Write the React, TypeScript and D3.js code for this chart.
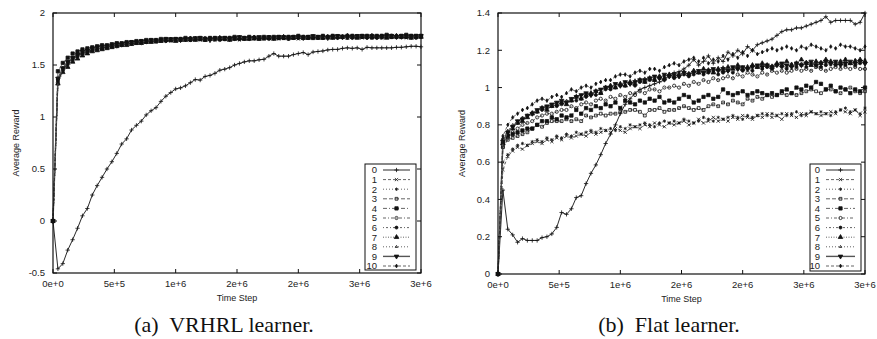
import React from "react";
import * as d3 from "d3";

const W = 877,
  H = 339;
const STEP = 40000; // one sample every 4e4 time steps

const seriesNames = ["0", "1", "2", "3", "4", "5", "6", "7", "8", "9", "10"];
const xTicks = [0, 5e5, 1e6, 1.5e6, 2e6, 2.5e6, 3e6];
const xTickLabels = ["0e+0", "5e+5", "1e+6", "2e+6", "2e+6", "3e+6", "3e+6"];

const vrYTicks = [-0.5, 0, 0.5, 1, 1.5, 2];
const vrYTickLabels = ["-0.5", "0", "0.5", "1", "1.5", "2"];
const flatYTicks = [0, 0.2, 0.4, 0.6, 0.8, 1, 1.2, 1.4];
const flatYTickLabels = ["0", "0.2", "0.4", "0.6", "0.8", "1", "1.2", "1.4"];

// (a) VRHRL learner
const vr0 = [
  0, -0.46, -0.41, -0.28, -0.18, -0.07, 0.05, 0.12, 0.25, 0.34,
  0.42, 0.5, 0.57, 0.65, 0.74, 0.79, 0.875, 0.92, 0.96, 1.02,
  1.06, 1.09, 1.15, 1.2, 1.235, 1.27, 1.28, 1.3, 1.33, 1.36,
  1.355, 1.39, 1.4, 1.42, 1.45, 1.46, 1.475, 1.5, 1.515, 1.53,
  1.54, 1.54, 1.55, 1.555, 1.585, 1.61, 1.585, 1.585, 1.585, 1.6,
  1.61, 1.62, 1.6, 1.625, 1.63, 1.635, 1.645, 1.65, 1.65, 1.66,
  1.665, 1.66, 1.665, 1.65, 1.67, 1.665, 1.665, 1.665, 1.665, 1.665,
  1.67, 1.67, 1.675, 1.68, 1.68, 1.675,
];
const vr1 = [
  0, 1.34, 1.45, 1.51, 1.55, 1.58, 1.61, 1.62, 1.64, 1.65,
  1.66, 1.67, 1.68, 1.69, 1.69, 1.7, 1.71, 1.71, 1.72, 1.72,
  1.73, 1.72, 1.73, 1.74, 1.73, 1.74, 1.75, 1.74, 1.74, 1.75,
  1.74, 1.75, 1.75, 1.74, 1.75, 1.76, 1.75, 1.75, 1.74, 1.75,
  1.76, 1.75, 1.76, 1.75, 1.76, 1.76, 1.75, 1.76, 1.77, 1.76,
  1.75, 1.76, 1.76, 1.77, 1.76, 1.77, 1.76, 1.76, 1.77, 1.78,
  1.76, 1.77, 1.77, 1.76, 1.77, 1.78, 1.77, 1.76, 1.77, 1.77,
  1.78, 1.77, 1.76, 1.77, 1.78, 1.77,
];
const vr2 = [
  0, 1.35, 1.47, 1.53, 1.57, 1.6, 1.62, 1.63, 1.65, 1.66,
  1.67, 1.67, 1.68, 1.69, 1.7, 1.71, 1.7, 1.72, 1.72, 1.73,
  1.73, 1.74, 1.73, 1.74, 1.75, 1.74, 1.74, 1.75, 1.75, 1.74,
  1.75, 1.75, 1.76, 1.75, 1.75, 1.75, 1.76, 1.75, 1.76, 1.76,
  1.75, 1.76, 1.76, 1.75, 1.76, 1.77, 1.76, 1.76, 1.76, 1.77,
  1.76, 1.76, 1.77, 1.76, 1.77, 1.77, 1.76, 1.77, 1.77, 1.76,
  1.77, 1.77, 1.78, 1.77, 1.76, 1.77, 1.78, 1.77, 1.77, 1.78,
  1.77, 1.76, 1.77, 1.78, 1.77, 1.78,
];
const vr3 = [
  0, 1.37, 1.46, 1.52, 1.56, 1.59, 1.62, 1.64, 1.65, 1.66,
  1.66, 1.68, 1.68, 1.7, 1.7, 1.71, 1.72, 1.71, 1.72, 1.73,
  1.73, 1.73, 1.74, 1.74, 1.74, 1.75, 1.74, 1.75, 1.74, 1.75,
  1.75, 1.74, 1.75, 1.76, 1.75, 1.75, 1.75, 1.76, 1.75, 1.76,
  1.76, 1.76, 1.75, 1.76, 1.76, 1.76, 1.77, 1.76, 1.75, 1.76,
  1.77, 1.76, 1.76, 1.77, 1.77, 1.76, 1.77, 1.77, 1.78, 1.77,
  1.76, 1.77, 1.78, 1.77, 1.77, 1.76, 1.77, 1.78, 1.78, 1.77,
  1.77, 1.78, 1.77, 1.78, 1.77, 1.78,
];
const vr4 = [
  0, 1.44, 1.52, 1.57, 1.61, 1.63, 1.65, 1.66, 1.67, 1.68,
  1.69, 1.69, 1.7, 1.71, 1.71, 1.72, 1.72, 1.73, 1.73, 1.74,
  1.74, 1.74, 1.75, 1.75, 1.74, 1.75, 1.75, 1.76, 1.75, 1.75,
  1.76, 1.75, 1.76, 1.76, 1.75, 1.76, 1.76, 1.77, 1.76, 1.76,
  1.77, 1.76, 1.76, 1.77, 1.76, 1.77, 1.77, 1.76, 1.77, 1.77,
  1.78, 1.77, 1.77, 1.76, 1.77, 1.78, 1.77, 1.78, 1.77, 1.77,
  1.78, 1.78, 1.77, 1.78, 1.78, 1.77, 1.78, 1.78, 1.79, 1.78,
  1.77, 1.78, 1.79, 1.78, 1.78, 1.78,
];
const vr5 = [
  0, 1.33, 1.45, 1.51, 1.55, 1.59, 1.61, 1.62, 1.64, 1.65,
  1.66, 1.67, 1.68, 1.68, 1.69, 1.7, 1.71, 1.72, 1.71, 1.72,
  1.73, 1.73, 1.74, 1.73, 1.74, 1.74, 1.75, 1.75, 1.74, 1.75,
  1.75, 1.76, 1.75, 1.75, 1.74, 1.75, 1.76, 1.75, 1.75, 1.76,
  1.75, 1.76, 1.76, 1.76, 1.75, 1.76, 1.76, 1.77, 1.76, 1.76,
  1.76, 1.77, 1.76, 1.76, 1.77, 1.76, 1.77, 1.77, 1.76, 1.77,
  1.77, 1.76, 1.77, 1.77, 1.78, 1.77, 1.76, 1.77, 1.77, 1.78,
  1.77, 1.77, 1.78, 1.77, 1.76, 1.77,
];
const vr6 = [
  0, 1.36, 1.47, 1.53, 1.57, 1.6, 1.62, 1.64, 1.65, 1.67,
  1.67, 1.68, 1.69, 1.69, 1.7, 1.71, 1.71, 1.72, 1.73, 1.72,
  1.73, 1.74, 1.74, 1.73, 1.75, 1.74, 1.75, 1.75, 1.76, 1.75,
  1.75, 1.75, 1.76, 1.75, 1.76, 1.76, 1.75, 1.76, 1.76, 1.75,
  1.76, 1.77, 1.76, 1.76, 1.77, 1.76, 1.76, 1.76, 1.77, 1.77,
  1.76, 1.77, 1.77, 1.77, 1.76, 1.77, 1.77, 1.78, 1.77, 1.77,
  1.77, 1.78, 1.77, 1.77, 1.78, 1.77, 1.77, 1.78, 1.77, 1.78,
  1.78, 1.77, 1.77, 1.78, 1.78, 1.77,
];
const vr7 = [
  0, 1.32, 1.43, 1.48, 1.53, 1.56, 1.59, 1.61, 1.63, 1.64,
  1.65, 1.66, 1.67, 1.68, 1.69, 1.69, 1.7, 1.71, 1.71, 1.72,
  1.72, 1.73, 1.73, 1.74, 1.74, 1.73, 1.74, 1.74, 1.75, 1.74,
  1.75, 1.74, 1.75, 1.75, 1.76, 1.75, 1.74, 1.75, 1.76, 1.75,
  1.75, 1.76, 1.75, 1.76, 1.76, 1.75, 1.76, 1.77, 1.76, 1.76,
  1.77, 1.76, 1.76, 1.77, 1.76, 1.76, 1.77, 1.76, 1.77, 1.77,
  1.78, 1.77, 1.76, 1.77, 1.77, 1.78, 1.77, 1.77, 1.76, 1.77,
  1.78, 1.77, 1.77, 1.76, 1.77, 1.77,
];
const vr8 = [
  0, 1.35, 1.46, 1.52, 1.56, 1.59, 1.61, 1.63, 1.64, 1.66,
  1.66, 1.67, 1.68, 1.69, 1.7, 1.7, 1.71, 1.72, 1.72, 1.73,
  1.72, 1.73, 1.74, 1.74, 1.73, 1.74, 1.75, 1.74, 1.75, 1.75,
  1.74, 1.75, 1.75, 1.76, 1.75, 1.74, 1.75, 1.76, 1.76, 1.75,
  1.76, 1.75, 1.76, 1.76, 1.76, 1.77, 1.75, 1.76, 1.76, 1.77,
  1.76, 1.77, 1.76, 1.77, 1.77, 1.76, 1.76, 1.77, 1.77, 1.76,
  1.77, 1.78, 1.76, 1.77, 1.77, 1.77, 1.78, 1.77, 1.77, 1.76,
  1.77, 1.78, 1.77, 1.77, 1.78, 1.77,
];
const vr9 = [
  0, 1.37, 1.47, 1.53, 1.57, 1.6, 1.63, 1.64, 1.66, 1.67,
  1.68, 1.68, 1.69, 1.7, 1.7, 1.71, 1.72, 1.72, 1.73, 1.73,
  1.74, 1.73, 1.74, 1.75, 1.75, 1.75, 1.74, 1.75, 1.75, 1.76,
  1.76, 1.75, 1.74, 1.75, 1.76, 1.76, 1.75, 1.76, 1.77, 1.76,
  1.76, 1.76, 1.77, 1.76, 1.77, 1.76, 1.77, 1.77, 1.76, 1.77,
  1.77, 1.76, 1.77, 1.78, 1.77, 1.77, 1.76, 1.77, 1.78, 1.77,
  1.77, 1.77, 1.78, 1.78, 1.77, 1.78, 1.77, 1.77, 1.78, 1.78,
  1.77, 1.78, 1.78, 1.77, 1.78, 1.78,
];
const vr10 = [
  0, 1.34, 1.45, 1.51, 1.56, 1.59, 1.61, 1.63, 1.64, 1.65,
  1.67, 1.67, 1.68, 1.69, 1.7, 1.7, 1.71, 1.72, 1.72, 1.72,
  1.73, 1.73, 1.74, 1.74, 1.74, 1.75, 1.75, 1.74, 1.75, 1.76,
  1.75, 1.75, 1.75, 1.76, 1.75, 1.76, 1.75, 1.76, 1.75, 1.76,
  1.77, 1.76, 1.76, 1.76, 1.77, 1.76, 1.77, 1.76, 1.77, 1.76,
  1.77, 1.77, 1.76, 1.77, 1.76, 1.78, 1.77, 1.77, 1.76, 1.77,
  1.78, 1.77, 1.77, 1.78, 1.76, 1.77, 1.78, 1.77, 1.78, 1.77,
  1.77, 1.78, 1.77, 1.78, 1.77, 1.78,
];

// (b) Flat learner
const flat0 = [
  0, 0.45, 0.24, 0.21, 0.17, 0.19, 0.18, 0.18, 0.18, 0.195,
  0.2, 0.215, 0.25, 0.33, 0.32, 0.35, 0.41, 0.42, 0.485, 0.54,
  0.585, 0.64, 0.7, 0.75, 0.8, 0.86, 0.91, 0.94, 0.97, 0.99,
  1.0, 1.01, 1.02, 1.03, 1.04, 1.07, 1.08, 1.085, 1.1, 1.12,
  1.15, 1.12, 1.14, 1.17, 1.13, 1.16, 1.14, 1.19, 1.17, 1.2,
  1.18, 1.22, 1.2, 1.23, 1.24, 1.25, 1.26, 1.28, 1.3, 1.31,
  1.31, 1.32, 1.32, 1.33, 1.34, 1.35, 1.36, 1.38, 1.35, 1.36,
  1.36, 1.36, 1.36, 1.34, 1.35, 1.4,
];
const flat1 = [
  0, 0.56, 0.63, 0.66, 0.68, 0.67, 0.69, 0.7, 0.71, 0.7,
  0.72, 0.71, 0.73, 0.72, 0.74, 0.73, 0.74, 0.75, 0.74, 0.76,
  0.75, 0.76, 0.77, 0.76, 0.78, 0.77, 0.76, 0.78, 0.79, 0.78,
  0.8, 0.79, 0.81, 0.8, 0.79, 0.81, 0.8, 0.81, 0.82, 0.8,
  0.81, 0.83, 0.81, 0.82, 0.84, 0.82, 0.83, 0.82, 0.84, 0.83,
  0.85, 0.84, 0.83, 0.85, 0.84, 0.86, 0.84, 0.85, 0.83, 0.86,
  0.85, 0.84, 0.86, 0.85, 0.87, 0.86, 0.85, 0.86, 0.87, 0.86,
  0.88, 0.87, 0.86, 0.88, 0.85, 0.87,
];
const flat2 = [
  0, 0.6, 0.64, 0.67, 0.69, 0.7, 0.69, 0.71, 0.72, 0.71,
  0.73, 0.72, 0.74, 0.73, 0.75, 0.74, 0.76, 0.75, 0.76, 0.77,
  0.76, 0.78, 0.77, 0.78, 0.77, 0.79, 0.78, 0.8, 0.79, 0.8,
  0.81, 0.8, 0.79, 0.81, 0.82, 0.81, 0.82, 0.81, 0.83, 0.82,
  0.81, 0.82, 0.84, 0.83, 0.82, 0.84, 0.83, 0.84, 0.85, 0.84,
  0.83, 0.85, 0.84, 0.85, 0.86, 0.85, 0.86, 0.85, 0.86, 0.85,
  0.86, 0.87, 0.85, 0.86, 0.87, 0.86, 0.87, 0.86, 0.85, 0.87,
  0.88, 0.89, 0.87, 0.88, 0.86, 0.89,
];
const flat3 = [
  0, 0.68, 0.72, 0.73, 0.74, 0.75, 0.76, 0.78, 0.8, 0.79,
  0.81, 0.82, 0.82, 0.82, 0.83, 0.82, 0.83, 0.82, 0.85, 0.84,
  0.85, 0.86, 0.85, 0.86, 0.86, 0.87, 0.87, 0.88, 0.88, 0.87,
  0.85, 0.88, 0.88, 0.89, 0.87, 0.88, 0.88, 0.89, 0.9, 0.89,
  0.88, 0.89, 0.88, 0.9, 0.91, 0.9, 0.92, 0.91, 0.93, 0.92,
  0.91, 0.94, 0.93, 0.95, 0.94, 0.96, 0.95, 0.96, 0.97, 0.96,
  0.97, 0.96, 0.97, 0.98, 0.99, 0.98, 0.97, 0.99, 0.99, 0.98,
  0.97, 0.99, 1.0, 0.98, 0.97, 0.98,
];
const flat4 = [
  0, 0.7, 0.74, 0.75, 0.76, 0.77, 0.78, 0.78, 0.8, 0.82,
  0.82, 0.84, 0.83, 0.85, 0.84, 0.85, 0.88, 0.86, 0.89, 0.88,
  0.9, 0.89, 0.91, 0.9, 0.92, 0.89, 0.93, 0.92, 0.91, 0.93,
  0.92, 0.94, 0.93, 0.95, 0.92, 0.93, 0.92, 0.94, 0.96, 0.95,
  0.92, 0.93, 0.95, 0.96, 0.94, 0.95, 0.99, 0.97, 0.96, 0.97,
  0.98, 0.96, 0.97, 0.98, 0.97, 0.96, 0.97, 0.96, 0.98, 0.99,
  0.97, 1.0, 0.99, 1.01, 1.0, 1.03, 1.02, 0.99, 1.01, 0.98,
  1.0, 0.99, 0.97, 0.99, 0.98, 1.0,
];
const flat5 = [
  0, 0.68, 0.73, 0.76, 0.78, 0.8, 0.81, 0.82, 0.84, 0.85,
  0.86, 0.86, 0.87, 0.88, 0.88, 0.9, 0.89, 0.91, 0.92, 0.91,
  0.93, 0.94, 0.93, 0.95, 0.94, 0.96, 0.95, 0.97, 0.96, 0.98,
  0.97, 0.99, 0.99, 0.98, 1.0, 1.0, 1.01, 1.0, 1.02, 1.01,
  1.03, 1.02, 1.04, 1.03, 1.05, 1.04, 1.05, 1.06, 1.05, 1.07,
  1.06, 1.08, 1.07, 1.06, 1.08, 1.07, 1.09, 1.08, 1.09, 1.08,
  1.09, 1.1, 1.09, 1.1, 1.09, 1.11, 1.1, 1.09, 1.1, 1.11,
  1.1, 1.11, 1.1, 1.11, 1.1, 1.1,
];
const flat6 = [
  0, 0.72, 0.76, 0.79, 0.81, 0.83, 0.85, 0.86, 0.87, 0.88,
  0.89, 0.9, 0.9, 0.91, 0.92, 0.93, 0.93, 0.94, 0.95, 0.96,
  0.96, 0.97, 0.99, 0.99, 1.0, 1.01, 1.01, 1.02, 1.01, 1.03,
  1.03, 1.04, 1.04, 1.05, 1.04, 1.06, 1.05, 1.06, 1.07, 1.06,
  1.07, 1.08, 1.07, 1.08, 1.09, 1.07, 1.08, 1.09, 1.08, 1.1,
  1.09, 1.1, 1.09, 1.11, 1.1, 1.11, 1.1, 1.12, 1.11, 1.1,
  1.12, 1.11, 1.12, 1.11, 1.13, 1.12, 1.11, 1.12, 1.13, 1.12,
  1.13, 1.12, 1.13, 1.12, 1.13, 1.13,
];
const flat7 = [
  0, 0.7, 0.75, 0.78, 0.81, 0.82, 0.84, 0.86, 0.87, 0.89,
  0.88, 0.9, 0.91, 0.92, 0.91, 0.93, 0.95, 0.94, 0.96, 0.97,
  0.98, 0.97, 1.0, 1.01, 1.0, 1.02, 1.01, 1.03, 1.02, 1.04,
  1.03, 1.05, 1.04, 1.06, 1.05, 1.07, 1.06, 1.07, 1.08, 1.07,
  1.09, 1.08, 1.1, 1.09, 1.08, 1.1, 1.09, 1.11, 1.1, 1.12,
  1.1, 1.11, 1.12, 1.11, 1.13, 1.12, 1.11, 1.13, 1.12, 1.14,
  1.12, 1.13, 1.15, 1.13, 1.12, 1.14, 1.13, 1.15, 1.14, 1.13,
  1.14, 1.15, 1.13, 1.14, 1.15, 1.14,
];
const flat8 = [
  0, 0.73, 0.77, 0.8, 0.82, 0.84, 0.85, 0.87, 0.88, 0.89,
  0.9, 0.91, 0.92, 0.92, 0.93, 0.94, 0.95, 0.96, 0.96, 0.97,
  0.98, 0.99, 1.0, 1.01, 1.0, 1.02, 1.03, 1.02, 1.04, 1.03,
  1.05, 1.04, 1.05, 1.06, 1.06, 1.07, 1.06, 1.08, 1.07, 1.08,
  1.08, 1.09, 1.08, 1.1, 1.09, 1.1, 1.11, 1.09, 1.1, 1.11,
  1.11, 1.1, 1.12, 1.11, 1.12, 1.11, 1.12, 1.13, 1.12, 1.11,
  1.13, 1.12, 1.13, 1.14, 1.12, 1.13, 1.14, 1.13, 1.12, 1.14,
  1.13, 1.14, 1.13, 1.15, 1.14, 1.15,
];
const flat9 = [
  0, 0.71, 0.76, 0.79, 0.82, 0.83, 0.85, 0.86, 0.88, 0.89,
  0.9, 0.91, 0.92, 0.93, 0.92, 0.94, 0.95, 0.96, 0.97, 0.96,
  0.98, 0.99, 1.0, 1.0, 1.02, 1.01, 1.03, 1.02, 1.03, 1.04,
  1.04, 1.05, 1.06, 1.05, 1.07, 1.06, 1.07, 1.06, 1.08, 1.07,
  1.08, 1.09, 1.08, 1.09, 1.1, 1.09, 1.1, 1.09, 1.11, 1.1,
  1.11, 1.1, 1.11, 1.12, 1.11, 1.12, 1.11, 1.12, 1.13, 1.12,
  1.11, 1.13, 1.12, 1.13, 1.14, 1.12, 1.13, 1.14, 1.13, 1.14,
  1.12, 1.13, 1.14, 1.13, 1.14, 1.13,
];
const flat10 = [
  0, 0.74, 0.8, 0.84, 0.86, 0.88, 0.89, 0.91, 0.93, 0.94,
  0.93, 0.95, 0.96, 0.95, 0.97, 0.99, 0.98, 1.0, 1.01, 1.0,
  1.02, 1.03, 1.04, 1.04, 1.06, 1.07, 1.07, 1.06, 1.08, 1.09,
  1.08, 1.1, 1.1, 1.09, 1.11, 1.12, 1.13, 1.12, 1.14, 1.15,
  1.16, 1.14, 1.16, 1.13, 1.15, 1.14, 1.17, 1.15, 1.18, 1.16,
  1.19, 1.17, 1.2, 1.18, 1.19, 1.2, 1.21, 1.2, 1.21, 1.22,
  1.21, 1.2, 1.22, 1.21, 1.23, 1.22, 1.21, 1.2, 1.22, 1.21,
  1.23, 1.22, 1.22, 1.21, 1.2, 1.22,
];

const vrSeries = [vr0, vr1, vr2, vr3, vr4, vr5, vr6, vr7, vr8, vr9, vr10];
const flatSeries = [flat0, flat1, flat2, flat3, flat4, flat5, flat6, flat7, flat8, flat9, flat10];

// gnuplot-ish line types
const dashes = ["", "3,2", "1,2", "4,2", "4,2,1,2", "3,2,1,2", "1,2,2,2", "1,1.5", "1,2", "", "3,2"];
const widths = [0.9, 0.7, 0.7, 0.7, 0.7, 0.7, 0.7, 0.7, 0.7, 1.4, 0.7];
const lineColors = ["#111", "#222", "#222", "#222", "#222", "#222", "#222", "#222", "#222", "#555", "#222"];

type MarkerStyle = { type: d3.SymbolType; size: number; filled: boolean; rotate?: number };
const markers: MarkerStyle[] = [
  { type: d3.symbolPlus, size: 7, filled: false },
  { type: d3.symbolTimes, size: 8, filled: false },
  { type: d3.symbolAsterisk, size: 8, filled: false },
  { type: d3.symbolSquare, size: 8, filled: false },
  { type: d3.symbolSquare, size: 11, filled: true },
  { type: d3.symbolCircle, size: 8, filled: false },
  { type: d3.symbolCircle, size: 7, filled: true },
  { type: d3.symbolTriangle, size: 9, filled: true },
  { type: d3.symbolTriangle2, size: 4, filled: false },
  { type: d3.symbolTriangle, size: 9, filled: true, rotate: 180 },
  { type: d3.symbolDiamond, size: 4, filled: true },
];
const markerPaths = markers.map((m) => d3.symbol().type(m.type).size(m.size)() as string);

function Marker({ k, x, y }: { k: number; x: number; y: number }) {
  const m = markers[k];
  return (
    <path
      d={markerPaths[k]}
      transform={`translate(${x},${y})${m.rotate ? ` rotate(${m.rotate})` : ""}`}
      fill={m.filled ? "#111" : "none"}
      stroke="#111"
      strokeWidth={0.8}
    />
  );
}

type Panel = {
  x0: number;
  x1: number;
  y0: number;
  y1: number;
  yDomain: [number, number];
  yTicks: number[];
  yTickLabels: string[];
  series: number[][];
  legend: { x: number; y: number; w: number; h: number; numX: number; lx0: number; lx1: number };
  yLabelX: number;
  caption: string;
  captionX: number;
};

const font = "'Liberation Sans', Arial, Helvetica, sans-serif";

function ChartPanel({ p }: { p: Panel }) {
  const x = d3.scaleLinear().domain([0, 3e6]).range([p.x0, p.x1]);
  const y = d3.scaleLinear().domain(p.yDomain).range([p.y1, p.y0]);
  const line = d3
    .line<number>()
    .x((_, i) => x(i * STEP))
    .y((d) => y(d));
  const tick = 4;
  const midY = (p.y0 + p.y1) / 2;
  const lg = p.legend;

  return (
    <g>
      {/* series */}
      {p.series.map((s, k) => (
        <g key={k}>
          <path
            d={line(s) || ""}
            fill="none"
            stroke={lineColors[k]}
            strokeWidth={widths[k]}
            strokeDasharray={dashes[k] || undefined}
          />
          {s.map((v, i) => (
            <Marker key={i} k={k} x={x(i * STEP)} y={y(v)} />
          ))}
        </g>
      ))}

      {/* frame and ticks */}
      <rect x={p.x0} y={p.y0} width={p.x1 - p.x0} height={p.y1 - p.y0} fill="none" stroke="#111" strokeWidth={1.2} />
      {xTicks.map((t, i) => (
        <g key={"xt" + i}>
          <line x1={x(t)} x2={x(t)} y1={p.y1} y2={p.y1 - tick} stroke="#111" />
          <line x1={x(t)} x2={x(t)} y1={p.y0} y2={p.y0 + tick} stroke="#111" />
          <text x={x(t)} y={p.y1 + 14} textAnchor="middle" fontSize={9.5} fontFamily={font} fill="#222">
            {xTickLabels[i]}
          </text>
        </g>
      ))}
      {p.yTicks.map((t, i) => (
        <g key={"yt" + i}>
          <line x1={p.x0} x2={p.x0 + tick} y1={y(t)} y2={y(t)} stroke="#111" />
          <line x1={p.x1} x2={p.x1 - tick} y1={y(t)} y2={y(t)} stroke="#111" />
          <text x={p.x0 - 8} y={y(t)} dy="0.35em" textAnchor="end" fontSize={9.5} fontFamily={font} fill="#222">
            {p.yTickLabels[i]}
          </text>
        </g>
      ))}

      <text x={(p.x0 + p.x1) / 2} y={p.y1 + 28} textAnchor="middle" fontSize={9} fontFamily={font} fill="#222">
        Time Step
      </text>
      <text
        transform={`translate(${p.yLabelX},${midY}) rotate(-90)`}
        textAnchor="middle"
        dy="0.35em"
        fontSize={9}
        fontFamily={font}
        fill="#222"
      >
        Average Reward
      </text>

      {/* legend */}
      <rect x={lg.x} y={lg.y} width={lg.w} height={lg.h} fill="#fff" stroke="#111" strokeWidth={1} />
      {seriesNames.map((name, k) => {
        const ly = lg.y + 6 + k * 9.6;
        return (
          <g key={"lg" + k}>
            <text x={lg.numX} y={ly} dy="0.35em" textAnchor="end" fontSize={9.5} fontFamily={font} fill="#222">
              {name}
            </text>
            <line
              x1={lg.lx0}
              x2={lg.lx1}
              y1={ly}
              y2={ly}
              stroke={lineColors[k]}
              strokeWidth={widths[k]}
              strokeDasharray={dashes[k] || undefined}
            />
            <Marker k={k} x={(lg.lx0 + lg.lx1) / 2} y={ly} />
          </g>
        );
      })}

      <text
        x={p.captionX}
        y={332}
        textAnchor="middle"
        fontSize={22}
        fontFamily="'Liberation Serif', 'Times New Roman', serif"
        fill="#111"
        style={{ whiteSpace: "pre" }}
      >
        {p.caption}
      </text>
    </g>
  );
}

const panels: Panel[] = [
  {
    x0: 53,
    x1: 421,
    y0: 13,
    y1: 273,
    yDomain: [-0.5, 2],
    yTicks: vrYTicks,
    yTickLabels: vrYTickLabels,
    series: vrSeries,
    legend: { x: 365, y: 164, w: 51, h: 106, numX: 377, lx0: 383, lx1: 410 },
    yLabelX: 16,
    caption: "(a)  VRHRL learner.",
    captionX: 224,
  },
  {
    x0: 498,
    x1: 865,
    y0: 13,
    y1: 274,
    yDomain: [0, 1.4],
    yTicks: flatYTicks,
    yTickLabels: flatYTickLabels,
    series: flatSeries,
    legend: { x: 810, y: 164, w: 51, h: 107, numX: 820, lx0: 826, lx1: 855 },
    yLabelX: 462,
    caption: "(b)  Flat learner.",
    captionX: 669,
  },
];

export default function App() {
  return (
    <svg width={W} height={H} style={{ position: "absolute", left: 0, top: 0, background: "#fff" }}>
      <rect width={W} height={H} fill="#fff" />
      {panels.map((p, i) => (
        <ChartPanel key={i} p={p} />
      ))}
    </svg>
  );
}
